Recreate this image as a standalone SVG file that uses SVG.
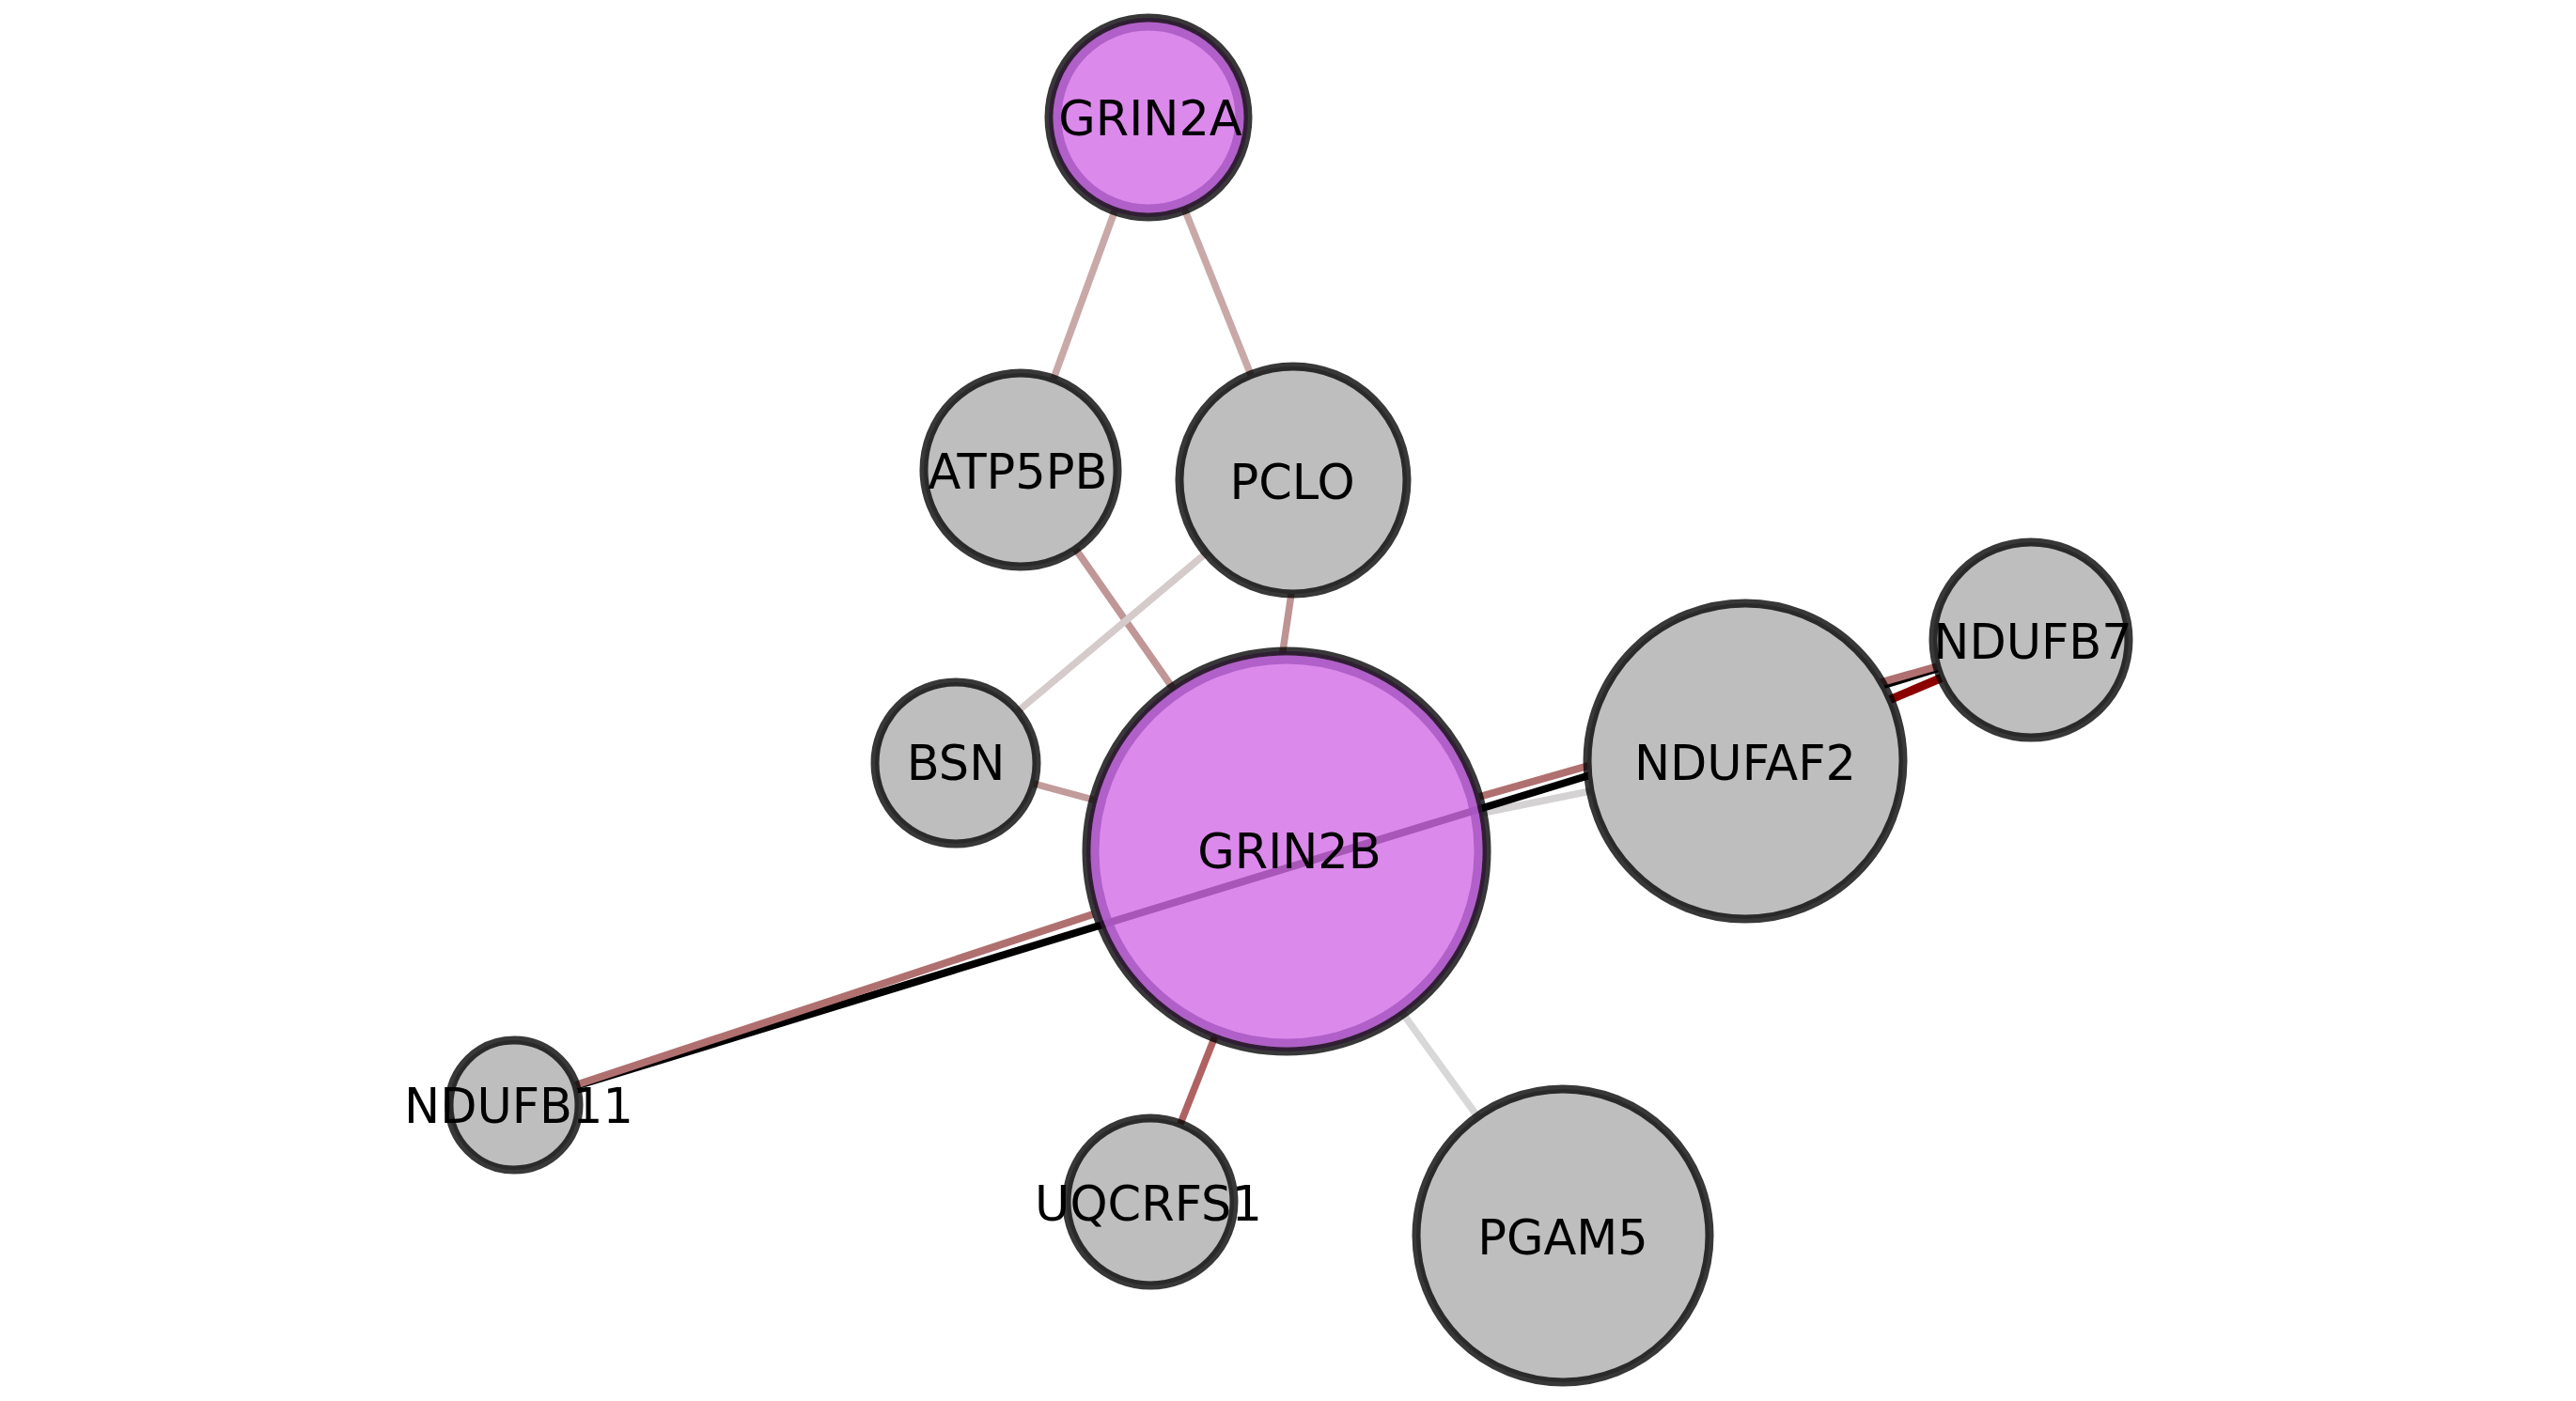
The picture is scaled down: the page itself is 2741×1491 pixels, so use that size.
<svg xmlns="http://www.w3.org/2000/svg" width="2741" height="1491" viewBox="0 0 2741 1491">
<style>
.e{fill:none;stroke-width:7.5;stroke-linecap:round}
.ring{stroke:#000;stroke-opacity:0.78;stroke-width:9}
.gray{fill:#bebebe}
.pf{fill:#d36be7;fill-opacity:0.8}
.band{fill:none;stroke:#a556bf;stroke-opacity:0.8;stroke-width:9}
text{font-family:"DejaVu Sans","Liberation Sans",sans-serif;font-size:51px;fill:#000;text-anchor:middle}
</style>
<rect width="2741" height="1491" fill="#fff"/>
<g id="connectors">
<line class="e" x1="1186" y1="225" x2="1121" y2="403" stroke="#c9a8a8"/>
<line class="e" x1="1261" y1="224" x2="1331" y2="399" stroke="#c9a8a8"/>
<line class="e" x1="1145" y1="585" x2="1247" y2="731" stroke="#c09696"/>
<line class="e" x1="1374" y1="632" x2="1365" y2="693" stroke="#bd9393"/>
<line class="e" x1="1283" y1="589" x2="1083" y2="757" stroke="#d5cbcb"/>
<line class="e" x1="1100" y1="834" x2="1163" y2="851" stroke="#c29b9b"/>
<line class="e" x1="1578" y1="865" x2="1692" y2="842" stroke="#d4d2d2"/>
<line class="e" x1="1292" y1="1105" x2="1256" y2="1196" stroke="#b06262"/>
<line class="e" x1="1493" y1="1079" x2="1572" y2="1188" stroke="#d8d8d8"/>
<line x1="547" y1="1176" x2="2161" y2="681" stroke="#000" stroke-width="8"/>
<path d="M612,1155 L1163,973 M1574,848 L2062,709" fill="none" stroke="#b07070" stroke-width="8"/>
<line x1="1857" y1="810" x2="2161" y2="681" stroke="#8b0000" stroke-width="9"/>
</g>
<g id="GRIN2A">
<circle class="pf" cx="1222" cy="125" r="106"/>
<circle class="band" cx="1222" cy="125" r="97"/>
<circle class="ring" cx="1222" cy="125" r="106" fill="none"/>
<text x="1224" y="144">GRIN2A</text>
</g>
<g id="ATP5PB">
<circle class="gray ring" cx="1086" cy="500" r="103"/>
<text x="1083" y="520">ATP5PB</text>
</g>
<g id="PCLO">
<circle class="gray ring" cx="1376" cy="511" r="121"/>
<text x="1375" y="531">PCLO</text>
</g>
<g id="BSN">
<circle class="gray ring" cx="1017" cy="812" r="86"/>
<text x="1017" y="830">BSN</text>
</g>
<g id="GRIN2B">
<circle class="pf" cx="1369" cy="906" r="213"/>
<circle class="band" cx="1369" cy="906" r="204"/>
<circle class="ring" cx="1369" cy="906" r="213" fill="none"/>
<text x="1372" y="924">GRIN2B</text>
</g>
<g id="NDUFAF2">
<circle class="gray ring" cx="1857" cy="810" r="168"/>
<text x="1857" y="830">NDUFAF2</text>
</g>
<g id="NDUFB7">
<circle class="gray ring" cx="2161" cy="681" r="104"/>
<text x="2163" y="701">NDUFB7</text>
</g>
<g id="NDUFB11">
<circle class="gray ring" cx="547" cy="1176" r="69"/>
<text x="552" y="1195">NDUFB11</text>
</g>
<g id="UQCRFS1">
<circle class="gray ring" cx="1224" cy="1279" r="89"/>
<text x="1222" y="1299">UQCRFS1</text>
</g>
<g id="PGAM5">
<circle class="gray ring" cx="1663" cy="1315" r="156"/>
<text x="1663" y="1335">PGAM5</text>
</g>
</svg>
